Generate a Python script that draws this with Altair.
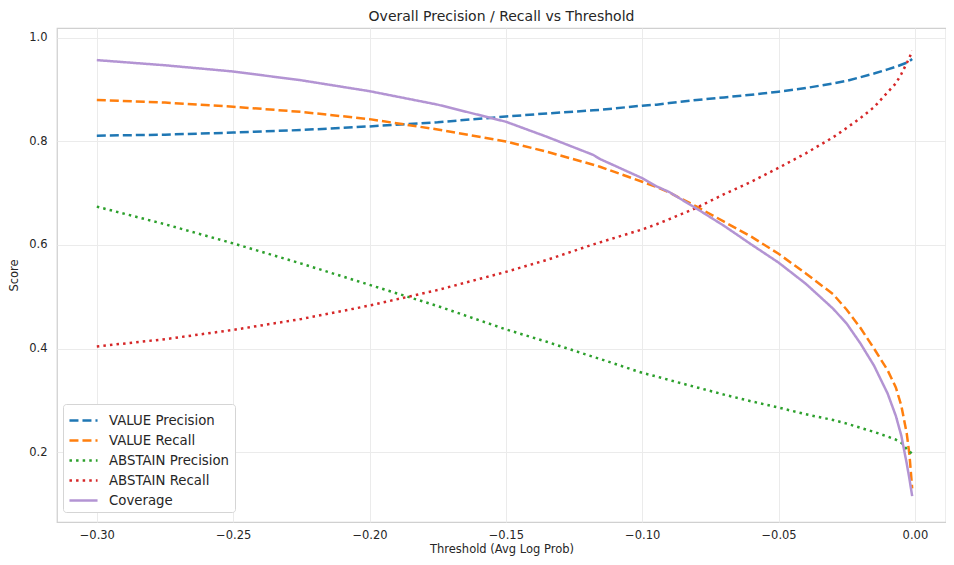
import altair as alt
import pandas as pd

thresholds = [-0.30, -0.275, -0.25, -0.225, -0.20, -0.175, -0.15, -0.135, -0.118, -0.1155,
              -0.10, -0.0947, -0.09, -0.08, -0.07, -0.06, -0.05, -0.04, -0.03, -0.025,
              -0.02, -0.015, -0.01, -0.007, -0.005, -0.003, -0.002, -0.001]

value_precision = [0.811, 0.813, 0.817, 0.822, 0.829, 0.837, 0.848, 0.854, 0.860, 0.861,
                   0.869, 0.871, 0.874, 0.880, 0.885, 0.890, 0.896, 0.903, 0.912, 0.917,
                   0.924, 0.931, 0.939, 0.944, 0.948, 0.952, 0.955, 0.959]
value_recall = [0.880, 0.875, 0.867, 0.857, 0.843, 0.823, 0.800, 0.780, 0.755, 0.751,
                0.722, 0.712, 0.701, 0.674, 0.645, 0.616, 0.583, 0.545, 0.505, 0.475,
                0.440, 0.400, 0.358, 0.325, 0.290, 0.236, 0.195, 0.130]
abstain_precision = [0.674, 0.640, 0.603, 0.564, 0.523, 0.482, 0.437, 0.413, 0.384, 0.380,
                     0.353, 0.346, 0.339, 0.325, 0.311, 0.298, 0.286, 0.273, 0.262, 0.255,
                     0.247, 0.239, 0.230, 0.224, 0.218, 0.206, 0.202, 0.196]
abstain_recall = [0.404, 0.418, 0.436, 0.457, 0.483, 0.513, 0.548, 0.571, 0.601, 0.605,
                  0.630, 0.640, 0.650, 0.672, 0.698, 0.722, 0.749, 0.777, 0.808, 0.826,
                  0.845, 0.866, 0.895, 0.912, 0.930, 0.951, 0.962, 0.975]
coverage = [0.957, 0.947, 0.935, 0.918, 0.897, 0.871, 0.838, 0.809, 0.774, 0.766,
            0.729, 0.713, 0.702, 0.670, 0.637, 0.601, 0.566, 0.525, 0.477, 0.448,
            0.410, 0.367, 0.313, 0.270, 0.232, 0.178, 0.148, 0.115]

series_names = ["VALUE Precision", "VALUE Recall", "ABSTAIN Precision", "ABSTAIN Recall", "Coverage"]
series_values = [value_precision, value_recall, abstain_precision, abstain_recall, coverage]
series_colors = ["#1f77b4", "#ff7f0e", "#2ca02c", "#d62728", "#b394d3"]
series_dashes = [[9, 4], [9, 4], [2.5, 4.1], [2.5, 4.1], [1, 0]]

rows = []
for name, vals in zip(series_names, series_values):
    for i, (t, v) in enumerate(zip(thresholds, vals)):
        rows.append({"threshold": t, "score": v, "series": name, "order": i})
df = pd.DataFrame(rows)

x_ticks = [-0.30, -0.25, -0.20, -0.15, -0.10, -0.05, 0.0]
y_ticks = [0.2, 0.4, 0.6, 0.8, 1.0]

legend_kw = dict(title=None, orient="none", legendX=6, legendY=376,
                 symbolType="M-1.37,0H1.37", symbolSize=420, symbolOffset=4,
                 symbolStrokeWidth=2.5, labelFontSize=13.3,
                 labelColor="#262626", labelFont="DejaVu Sans",
                 rowPadding=2, labelOffset=14, padding=5,
                 fillColor="white", strokeColor="#d5d5d5",
                 cornerRadius=3)

chart = alt.Chart(df).mark_line(strokeWidth=2.5, strokeCap="butt").encode(
    x=alt.X("threshold:Q", title="Threshold (Avg Log Prob)",
            scale=alt.Scale(domain=[-0.3146, 0.0114], nice=False, zero=False),
            axis=alt.Axis(values=x_ticks, format=".2f")),
    y=alt.Y("score:Q", title="Score",
            scale=alt.Scale(domain=[0.065, 1.019], nice=False, zero=False),
            axis=alt.Axis(values=y_ticks, format=".1f")),
    color=alt.Color("series:N", sort=series_names,
                    scale=alt.Scale(domain=series_names, range=series_colors),
                    legend=alt.Legend(**legend_kw)),
    strokeDash=alt.StrokeDash("series:N", sort=series_names,
                              scale=alt.Scale(domain=series_names, range=series_dashes),
                              legend=alt.Legend(**legend_kw)),
    order="order:Q",
).properties(
    width=889, height=494,
    title=alt.TitleParams("Overall Precision / Recall vs Threshold", fontSize=14,
                          font="DejaVu Sans", fontWeight="normal", color="#262626",
                          offset=4),
    autosize=alt.AutoSizeParams(type="none"),
    padding={"left": 49, "top": 20, "right": 0, "bottom": 35},
).configure_view(
    stroke="#d0d0d0", strokeWidth=1.25
).configure_axis(
    domain=False, ticks=False, grid=True, gridColor="#ebebeb", gridWidth=1,
    labelColor="#262626", labelFont="DejaVu Sans", labelFontSize=11.5,
    titleColor="#262626", titleFont="DejaVu Sans", titleFontSize=11.5,
    titleFontWeight="normal"
).configure_axisX(
    labelPadding=7, titlePadding=3
).configure_axisY(
    labelPadding=10, titlePadding=9
)

chart.save("out.html", embed_options={"renderer": "svg", "actions": False})
